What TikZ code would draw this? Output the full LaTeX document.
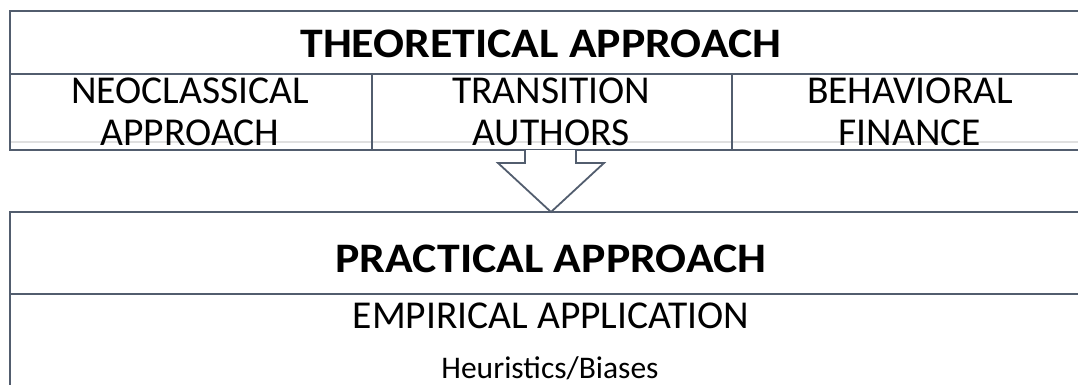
\documentclass[tikz,border=0pt]{standalone}
\usepackage{fontspec}
\setmainfont{Carlito}
\newfontfamily\widefont[FakeStretch=1.09]{Carlito}
\definecolor{framecol}{RGB}{82,93,110}

\begin{document}
\begin{tikzpicture}[x=1pt,y=-1pt,
  frame/.style={draw=framecol,line width=2pt},
  headtext/.style={font=\fontsize{42}{48}\widefont\bfseries,anchor=base},
  celltext/.style={font=\fontsize{39.5}{42}\selectfont,align=center,anchor=base}]
 \useasboundingbox (0,0) rectangle (1078,385);

 % upper block: title row and three columns
 \draw [black!12,line width=1.5pt] (11,142) -- (1088,142);
 \node [headtext] (theory) at (541,58) {THEORETICAL APPROACH};
 \foreach \cx/\name/\txt in {190/neo/{NEOCLASSICAL\\APPROACH},
                             551/trans/{TRANSITION\\AUTHORS},
                             910/behav/{BEHAVIORAL\\FINANCE}}
   \node [celltext] (\name) at (\cx,146) {\txt};

 \draw [frame] (10,11) rectangle (1089,150);
 \draw [frame] (10,74) -- (1089,74);
 \foreach \x in {372,732}
   \draw [frame] (\x,74) -- (\x,150);

 % lower block
 \draw [frame] (10,212) rectangle (1089,400);
 \draw [frame] (10,294) -- (1089,294);
 \node [headtext] (practice) at (551,272) {PRACTICAL APPROACH};
 \node [celltext] (empirical) at (551,328) {EMPIRICAL APPLICATION};
 \node [font=\fontsize{31.5}{36}\selectfont,anchor=base] (biases) at (550,378) {Heuristics/Biases};

 % block arrow between them
 \draw [frame,line width=1.8pt,fill=white,line join=miter]
   (525,150) -- (525,163) -- (498,163) -- (551,212) -- (604,163) -- (576,163) -- (576,150);
\end{tikzpicture}
\end{document}
